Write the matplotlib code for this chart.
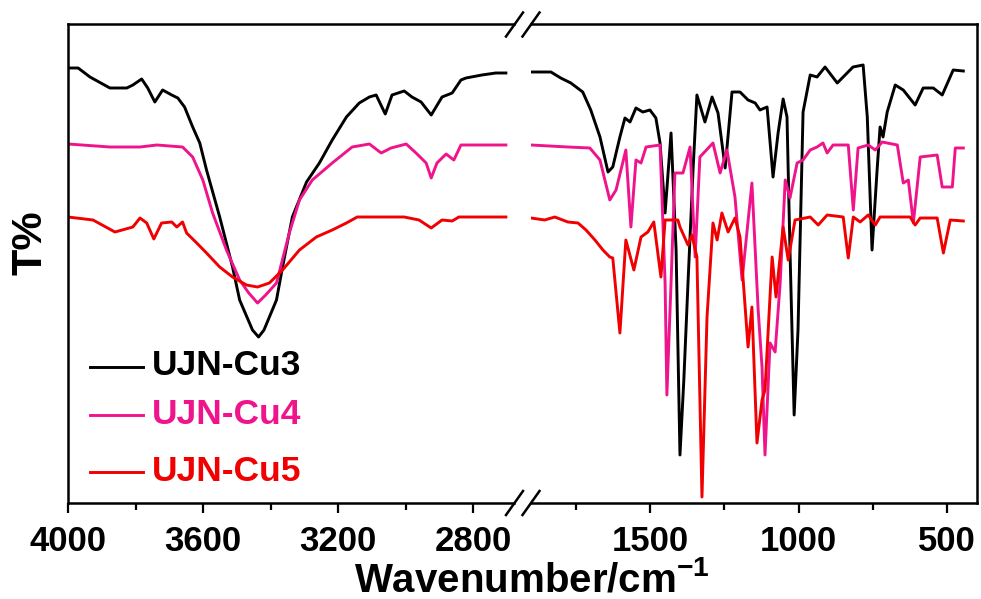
import matplotlib
matplotlib.use("Agg")
import matplotlib.pyplot as plt
from matplotlib.lines import Line2D
from matplotlib.ticker import FixedLocator

plt.rcParams['font.family'] = ['Liberation Sans', 'DejaVu Sans']
plt.rcParams['font.weight'] = 'bold'
plt.rcParams['mathtext.fontset'] = 'custom'
plt.rcParams['mathtext.rm'] = 'Liberation Sans'
plt.rcParams['mathtext.default'] = 'regular'

# ---------------- data (T in arbitrary units) ----------------
labels = ["UJN-Cu3", "UJN-Cu4", "UJN-Cu5"]
colors = ["#000000", "#F0148C", "#F00000"]

# high wavenumber region (4000-2700 cm-1)
wn_cu3_high = [4000, 3970, 3935, 3876, 3826, 3808, 3782, 3764, 3743, 3720, 3693, 3675, 3655,
               3631, 3610, 3590, 3551, 3513, 3492, 3454, 3436, 3420, 3383, 3365, 3336, 3294,
               3256, 3218, 3176, 3138, 3108, 3088, 3061, 3041, 3005, 2982, 2955, 2925, 2893,
               2863, 2837, 2822, 2775, 2734, 2704]
t_cu3_high = [435, 435, 426, 415, 415, 418, 424, 415, 401, 413, 408, 405, 396,
              376, 360, 333, 286, 236, 203, 173, 166, 173, 203, 236, 286, 321,
              340, 363, 386, 400, 406, 408, 389, 408, 412, 406, 401, 388, 406,
              410, 423, 425, 428, 430, 430]

wn_cu4_high = [4000, 3876, 3787, 3737, 3661, 3631, 3601, 3572, 3531, 3492, 3465, 3439, 3415,
               3383, 3345, 3315, 3277, 3218, 3159, 3108, 3073, 3044, 2999, 2970, 2940, 2925,
               2908, 2881, 2858, 2837, 2704]
t_cu4_high = [359, 356, 356, 358, 356, 346, 323, 290, 253, 223, 210, 200, 208,
              220, 270, 303, 323, 340, 356, 359, 350, 355, 359, 350, 340, 325,
              340, 349, 343, 358, 358]

wn_cu5_high = [4000, 3926, 3861, 3808, 3787, 3767, 3746, 3723, 3693, 3678, 3661, 3649, 3619,
               3590, 3551, 3513, 3472, 3439, 3404, 3365, 3315, 3265, 3218, 3176, 3144, 3070,
               3005, 2961, 2925, 2893, 2863, 2843, 2704]
t_cu5_high = [286, 283, 271, 276, 285, 280, 264, 280, 281, 276, 281, 270, 260,
              250, 236, 226, 218, 216, 220, 233, 253, 266, 273, 280, 286, 286,
              286, 283, 275, 283, 282, 286, 286]

# low wavenumber region (1900-450 cm-1)
wn_cu3_low = [1900, 1833, 1800, 1766, 1726, 1699, 1668, 1641, 1625, 1601, 1584, 1567, 1547,
              1524, 1500, 1480, 1466, 1449, 1429, 1412, 1399, 1386, 1372, 1355, 1342, 1315,
              1291, 1271, 1247, 1224, 1197, 1170, 1146, 1130, 1106, 1086, 1069, 1052, 1039,
              1029, 1015, 1002, 985, 961, 938, 911, 870, 817, 783, 769, 753, 736, 726, 716,
              702, 675, 648, 608, 581, 547, 517, 480, 446]
t_cu3_low = [431, 431, 425, 420, 411, 393, 366, 331, 336, 366, 385, 381, 395,
             391, 393, 385, 360, 290, 370, 253, 48, 123, 220, 333, 408, 381,
             406, 390, 335, 411, 411, 403, 400, 393, 396, 326, 370, 404, 386,
             253, 88, 173, 391, 428, 426, 436, 420, 436, 438, 386, 253, 333, 376, 366,
             391, 418, 413, 398, 415, 415, 408, 433, 432]

wn_cu4_low = [1900, 1776, 1702, 1668, 1635, 1614, 1581, 1564, 1547, 1530, 1513, 1466, 1449,
              1443, 1429, 1416, 1389, 1365, 1348, 1332, 1288, 1264, 1241, 1214, 1190, 1157,
              1136, 1123, 1113, 1096, 1079, 1062, 1045, 1029, 1005, 985, 961, 938, 918, 904,
              884, 833, 816, 800, 766, 742, 719, 668, 648, 631, 614, 591, 534, 517, 483, 473, 446]
t_cu4_low = [358, 356, 355, 343, 303, 313, 353, 276, 343, 340, 356, 358, 220,
             108, 220, 330, 330, 356, 246, 346, 360, 330, 353, 306, 223, 320,
             193, 136, 48, 160, 151, 220, 323, 305, 340, 343, 353, 356, 360, 350,
             358, 358, 293, 355, 358, 353, 361, 358, 320, 323, 280, 346, 348, 316, 316, 355, 355]

wn_cu5_low = [1900, 1854, 1820, 1776, 1742, 1715, 1685, 1658, 1635, 1625, 1601, 1581, 1554,
              1530, 1507, 1487, 1463, 1449, 1406, 1399, 1372, 1359, 1342, 1325, 1308, 1288,
              1274, 1258, 1237, 1214, 1197, 1170, 1157, 1140, 1123, 1113, 1089, 1076, 1052,
              1035, 1012, 961, 934, 904, 850, 833, 816, 793, 766, 742, 726, 625, 608, 591,
              534, 513, 490, 446]
t_cu5_low = [285, 283, 286, 281, 280, 273, 263, 253, 246, 245, 170, 263, 233,
             266, 271, 281, 226, 283, 283, 276, 258, 268, 246, 6, 186, 280,
             263, 290, 271, 285, 266, 156, 196, 60, 103, 113, 246, 206, 276,
             243, 283, 286, 278, 288, 286, 245, 286, 281, 288, 278, 286, 286, 278, 285,
             285, 250, 283, 282]

high = [(wn_cu3_high, t_cu3_high), (wn_cu4_high, t_cu4_high), (wn_cu5_high, t_cu5_high)]
low = [(wn_cu3_low, t_cu3_low), (wn_cu4_low, t_cu4_low), (wn_cu5_low, t_cu5_low)]

# ---------------- figure ----------------
W, H = 9.81, 5.99
fig = plt.figure(figsize=(W, H), dpi=100)
px = lambda v: v / 981.0
py = lambda v: 1 - v / 599.0
bottom = py(503)
height = (503 - 24) / 599.0
axL = fig.add_axes([px(68), bottom, (514 - 68) / 981.0, height])
axR = fig.add_axes([px(531), bottom, (977 - 531) / 981.0, height])

lw = 2.1
for ax, dat in ((axL, high), (axR, low)):
    for (wn, t), c, lab in zip(dat, colors, labels):
        ax.plot(wn, t, color=c, lw=lw, label=lab, solid_joinstyle='round')
    ax.set_ylim(0, 479)
    ax.set_yticks([])
    for s in ax.spines.values():
        s.set_linewidth(1.8)
    ax.tick_params(axis='x', which='major', direction='out', length=7, width=1.6,
                   labelsize=25, pad=9)
    ax.tick_params(axis='x', which='minor', direction='out', length=5, width=1.6)

axL.set_xlim(4000, 2680)
axR.set_xlim(1900, 400)
axL.xaxis.set_major_locator(FixedLocator([4000, 3600, 3200, 2800]))
axL.xaxis.set_minor_locator(FixedLocator([3800, 3400, 3000]))
axR.xaxis.set_major_locator(FixedLocator([1500, 1000, 500]))
axR.xaxis.set_minor_locator(FixedLocator([1750, 1250, 750]))
axL.spines['right'].set_visible(False)
axR.spines['left'].set_visible(False)
for ax in (axL, axR):
    ax.set_xticklabels([str(int(v)) for v in ax.get_xticks()], fontweight='bold', fontsize=25)

# break marks
for xp in (514.5, 531.0):
    for yp in (24.5, 503.0):
        fig.add_artist(Line2D([px(xp - 8.5), px(xp + 8.5)], [py(yp + 12), py(yp - 12)],
                              transform=fig.transFigure, color='black', lw=1.8))

# legend (manual)
leg_y = [0.2839, 0.1837, 0.0647]
base_y = [0.2672, 0.1649, 0.0459]
for c, lab, ly, by in zip(colors, labels, leg_y, base_y):
    axL.add_line(Line2D([0.049, 0.168], [ly, ly], transform=axL.transAxes, color=c, lw=lw))
    axL.text(0.188, by, lab, transform=axL.transAxes, color=c, fontsize=25.5,
             fontweight='bold', va='baseline', ha='left')

fig.text(px(30), py(243), "T%", rotation=90, ha='center', va='center',
         fontsize=31, fontweight='bold')
fig.text(px(532), py(591), "Wavenumber/cm$^{\u2212 1}$",
         ha='center', va='baseline', fontsize=29, fontweight='bold')

fig.savefig("out.png", dpi=100)
